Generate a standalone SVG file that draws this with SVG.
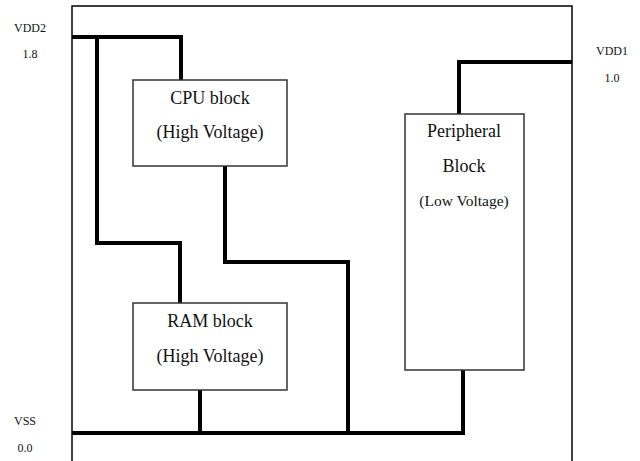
<svg xmlns="http://www.w3.org/2000/svg" width="640" height="461" viewBox="0 0 640 461">
<style>
.frame{fill:none;stroke:#000;stroke-width:1.5}
.box{fill:#fff;stroke:#333;stroke-width:1.5}
.wire{fill:none;stroke:#000;stroke-width:4;stroke-linejoin:miter}
.t{font-family:"Liberation Serif","Times New Roman",serif;fill:#111;text-anchor:middle}
.big{font-size:18px}
.mid{font-size:15.5px}
.sm{font-size:12px}
</style>
<rect width="640" height="461" fill="#fff"/>
<g id="frame"><path class="frame" d="M72,461 V6 H572 V461"/></g>
<g id="connectors">
<path class="wire" d="M72,37 H181 V80"/>
<path class="wire" d="M97,37 V243 H180 V303"/>
<path class="wire" d="M225,166 V262 H348 V433"/>
<path class="wire" d="M200,390 V433"/>
<path class="wire" d="M72,433 H463 V370"/>
<path class="wire" d="M572,62 H459 V114"/>
</g>
<g id="cpu">
<rect class="box" x="133" y="80" width="154" height="86"/>
<text class="t big" x="210" y="104">CPU block</text>
<text class="t big" x="210" y="138">(High Voltage)</text>
</g>
<g id="ram">
<rect class="box" x="133" y="303" width="154" height="87"/>
<text class="t big" x="210" y="327">RAM block</text>
<text class="t big" x="210" y="362">(High Voltage)</text>
</g>
<g id="peripheral">
<rect class="box" x="405" y="114" width="119" height="256"/>
<text class="t big" x="464" y="137">Peripheral</text>
<text class="t big" x="464" y="172">Block</text>
<text class="t mid" x="464" y="206">(Low Voltage)</text>
</g>
<g id="vdd2">
<text class="t sm" x="30" y="32">VDD2</text>
<text class="t sm" x="30" y="58">1.8</text>
</g>
<g id="vdd1">
<text class="t sm" x="612" y="55">VDD1</text>
<text class="t sm" x="612" y="82">1.0</text>
</g>
<g id="vss">
<text class="t sm" x="25" y="425">VSS</text>
<text class="t sm" x="25" y="452">0.0</text>
</g>
</svg>
